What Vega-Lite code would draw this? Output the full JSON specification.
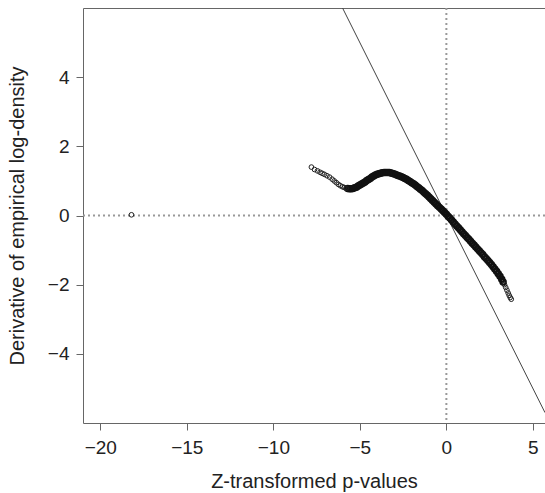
{
  "$schema": "https://vega.github.io/schema/vega-lite/v6.json",
  "autosize": {"type": "none"},
  "width": 462,
  "height": 415,
  "padding": {"left": 83, "top": 8, "right": 0, "bottom": 70},
  "config": {
    "view": {"stroke": "#666", "strokeWidth": 1},
    "font": "Liberation Sans",
    "axis": {
      "domain": false,
      "grid": false,
      "tickColor": "#666",
      "tickSize": 7,
      "labelFont": "Liberation Sans",
      "labelFontSize": 19,
      "labelColor": "#222",
      "titleFont": "Liberation Sans",
      "titleFontSize": 20,
      "titleFontWeight": "normal",
      "titleColor": "#222"
    }
  },
  "datasets": {
    "tail": [
      {"z": -18.2, "d": 0.02},
      {"z": -7.80, "d": 1.40}, {"z": -7.62, "d": 1.33}, {"z": -7.45, "d": 1.29}, {"z": -7.30, "d": 1.25},
      {"z": -7.18, "d": 1.22}, {"z": -7.05, "d": 1.19}, {"z": -6.90, "d": 1.15}, {"z": -6.75, "d": 1.11},
      {"z": -6.60, "d": 1.05}, {"z": -6.48, "d": 1.00}, {"z": -6.36, "d": 0.95}, {"z": -6.24, "d": 0.90},
      {"z": -6.12, "d": 0.86}, {"z": -6.00, "d": 0.83}, {"z": -5.90, "d": 0.81}, {"z": -5.80, "d": 0.79},
      {"z": 3.36, "d": -2.00}, {"z": 3.43, "d": -2.08}, {"z": 3.50, "d": -2.16}, {"z": 3.57, "d": -2.24},
      {"z": 3.63, "d": -2.31}, {"z": 3.69, "d": -2.37}, {"z": 3.75, "d": -2.42}
    ],
    "dense": [
      {"z": -5.70, "d": 0.78}, {"z": -5.60, "d": 0.77}, {"z": -5.50, "d": 0.77}, {"z": -5.40, "d": 0.78},
      {"z": -5.30, "d": 0.80}, {"z": -5.20, "d": 0.82}, {"z": -5.10, "d": 0.85}, {"z": -5.00, "d": 0.88},
      {"z": -4.90, "d": 0.91}, {"z": -4.80, "d": 0.94}, {"z": -4.70, "d": 0.97}, {"z": -4.60, "d": 1.01},
      {"z": -4.50, "d": 1.04}, {"z": -4.40, "d": 1.07}, {"z": -4.30, "d": 1.11}, {"z": -4.20, "d": 1.14},
      {"z": -4.10, "d": 1.17}, {"z": -4.00, "d": 1.19}, {"z": -3.90, "d": 1.21}, {"z": -3.80, "d": 1.225},
      {"z": -3.70, "d": 1.235}, {"z": -3.60, "d": 1.24}, {"z": -3.50, "d": 1.245}, {"z": -3.40, "d": 1.245},
      {"z": -3.30, "d": 1.24}, {"z": -3.20, "d": 1.23}, {"z": -3.10, "d": 1.215}, {"z": -3.00, "d": 1.20},
      {"z": -2.90, "d": 1.18}, {"z": -2.80, "d": 1.16}, {"z": -2.70, "d": 1.14}, {"z": -2.60, "d": 1.12},
      {"z": -2.50, "d": 1.10}, {"z": -2.40, "d": 1.07}, {"z": -2.30, "d": 1.045}, {"z": -2.20, "d": 1.015},
      {"z": -2.10, "d": 0.985}, {"z": -2.00, "d": 0.95}, {"z": -1.90, "d": 0.915}, {"z": -1.80, "d": 0.88},
      {"z": -1.70, "d": 0.84}, {"z": -1.60, "d": 0.80}, {"z": -1.50, "d": 0.76}, {"z": -1.40, "d": 0.72},
      {"z": -1.30, "d": 0.675}, {"z": -1.20, "d": 0.63}, {"z": -1.10, "d": 0.585}, {"z": -1.00, "d": 0.535},
      {"z": -0.90, "d": 0.485}, {"z": -0.80, "d": 0.435}, {"z": -0.70, "d": 0.385}, {"z": -0.60, "d": 0.335},
      {"z": -0.50, "d": 0.285}, {"z": -0.40, "d": 0.235}, {"z": -0.30, "d": 0.185}, {"z": -0.20, "d": 0.135},
      {"z": -0.10, "d": 0.085}, {"z": 0.00, "d": 0.035}, {"z": 0.10, "d": -0.02}, {"z": 0.20, "d": -0.075},
      {"z": 0.30, "d": -0.13}, {"z": 0.40, "d": -0.19}, {"z": 0.50, "d": -0.245}, {"z": 0.60, "d": -0.30},
      {"z": 0.70, "d": -0.355}, {"z": 0.80, "d": -0.41}, {"z": 0.90, "d": -0.47}, {"z": 1.00, "d": -0.525},
      {"z": 1.10, "d": -0.58}, {"z": 1.20, "d": -0.635}, {"z": 1.30, "d": -0.69}, {"z": 1.40, "d": -0.745},
      {"z": 1.50, "d": -0.80}, {"z": 1.60, "d": -0.855}, {"z": 1.70, "d": -0.91}, {"z": 1.80, "d": -0.965},
      {"z": 1.90, "d": -1.02}, {"z": 2.00, "d": -1.075}, {"z": 2.10, "d": -1.13}, {"z": 2.20, "d": -1.19},
      {"z": 2.30, "d": -1.245}, {"z": 2.40, "d": -1.30}, {"z": 2.50, "d": -1.36}, {"z": 2.60, "d": -1.42},
      {"z": 2.70, "d": -1.48}, {"z": 2.80, "d": -1.545}, {"z": 2.90, "d": -1.615}, {"z": 3.00, "d": -1.685},
      {"z": 3.10, "d": -1.76}, {"z": 3.20, "d": -1.845}, {"z": 3.28, "d": -1.92}
    ],
    "diag": [
      {"z": -6.0, "d": 6.0},
      {"z": 5.7, "d": -5.7}
    ],
    "zero": [
      {"v": 0}
    ]
  },
  "layer": [
    {
      "data": {"name": "zero"},
      "mark": {"type": "rule", "color": "#999", "strokeWidth": 2, "strokeDash": [2, 3]},
      "encoding": {
        "y": {"field": "v", "type": "quantitative", "scale": {"domain": [-6, 6], "nice": false, "zero": false}}
      }
    },
    {
      "data": {"name": "zero"},
      "mark": {"type": "rule", "color": "#999", "strokeWidth": 2, "strokeDash": [2, 3]},
      "encoding": {
        "x": {"field": "v", "type": "quantitative", "scale": {"domain": [-21, 5.7], "nice": false, "zero": false}}
      }
    },
    {
      "data": {"name": "diag"},
      "mark": {"type": "line", "color": "#444", "strokeWidth": 1},
      "encoding": {
        "x": {"field": "z", "type": "quantitative"},
        "y": {"field": "d", "type": "quantitative"}
      }
    },
    {
      "data": {"name": "dense"},
      "mark": {"type": "point", "shape": "circle", "filled": false, "color": "#111", "size": 28, "strokeWidth": 2.2, "opacity": 1},
      "encoding": {
        "x": {"field": "z", "type": "quantitative"},
        "y": {"field": "d", "type": "quantitative"}
      }
    },
    {
      "data": {"name": "tail"},
      "mark": {"type": "point", "shape": "circle", "filled": false, "color": "#222", "size": 22, "strokeWidth": 1, "opacity": 1},
      "encoding": {
        "x": {
          "field": "z", "type": "quantitative",
          "scale": {"domain": [-21, 5.7], "nice": false, "zero": false},
          "axis": {"values": [-20, -15, -10, -5, 0, 5], "title": "Z-transformed p-values", "labelPadding": 8, "titlePadding": 14}
        },
        "y": {
          "field": "d", "type": "quantitative",
          "scale": {"domain": [-6, 6], "nice": false, "zero": false},
          "axis": {"values": [-4, -2, 0, 2, 4], "title": "Derivative of empirical log-density", "labelPadding": 7, "titlePadding": 20}
        }
      }
    }
  ]
}
